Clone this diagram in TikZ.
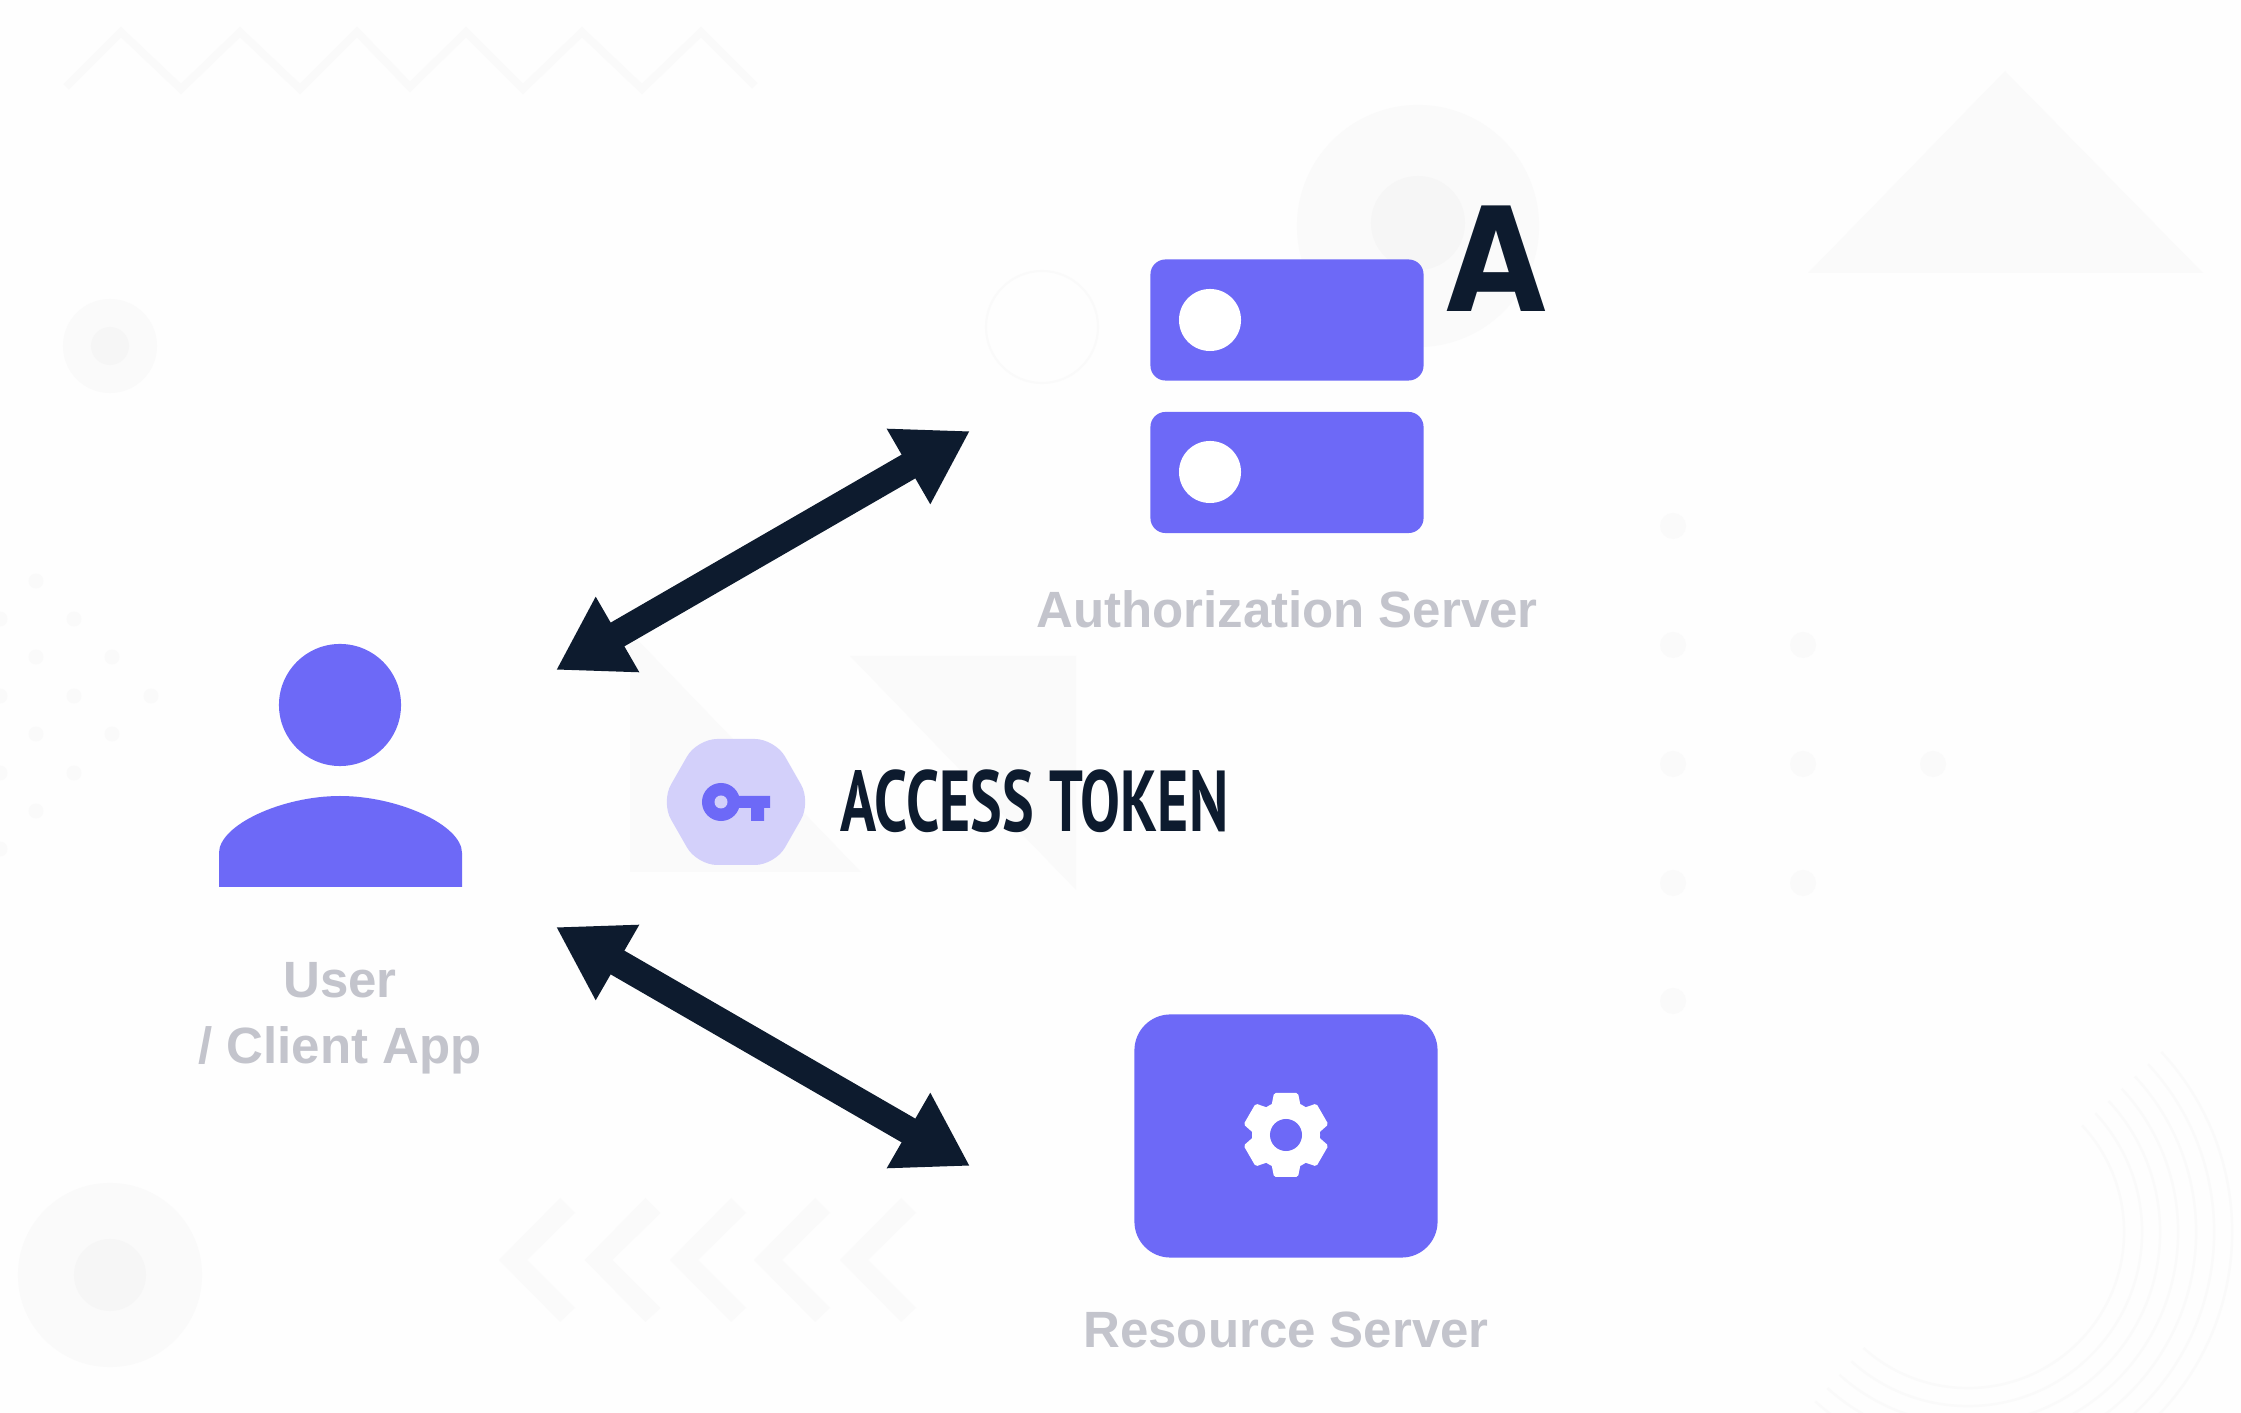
\documentclass[tikz,border=0pt]{standalone}
\usepackage{fontspec}
\usepackage{xcolor}
\usetikzlibrary{arrows.meta,positioning}
\setmainfont{Liberation Sans}
\newfontfamily\markfont[FakeStretch=0.89]{DejaVu Sans}
\newfontfamily\tokenfont[FakeStretch=0.69]{PT Sans}
\definecolor{brandpurple}{RGB}{109, 105, 247}
\definecolor{hexlilac}{RGB}{211, 208, 250}
\definecolor{darknavy}{RGB}{13, 27, 46}
\definecolor{softgray}{RGB}{195, 196, 204}
\definecolor{pagewhite}{RGB}{254, 254, 254}
\definecolor{faintgray}{RGB}{250, 250, 250}
\definecolor{innergray}{RGB}{246, 246, 246}

\begin{document}
\begin{tikzpicture}[
    x=0.01cm, y=-0.01cm,
    serverbox/.style={rectangle, rounded corners=0.15cm, minimum width=2.73cm, minimum height=1.21cm, inner sep=0, fill=brandpurple},
    serverdot/.style={circle, minimum size=0.62cm, inner sep=0, fill=white},
    blob/.style={circle, inner sep=0, fill=faintgray},
    blobcore/.style={circle, inner sep=0, fill=innergray},
    softdot/.style={fill=faintgray},
    nametext/.style={inner sep=0, align=center, text=softgray, font=\fontsize{14.5}{18.7}\selectfont\bfseries},
    arrow/.style={line width=7.8pt, draw=darknavy, fill=darknavy, {Triangle[length=20.2pt,width=23.3pt]}-{Triangle[length=20.2pt,width=23.3pt]}}
]

% Page
\path[use as bounding box, fill=pagewhite] (0,0) rectangle (2241,1413);

% Background shapes
\node[blob, minimum size=0.94cm] (blobnw) at (110,346) {};
\node[blobcore, minimum size=0.38cm] at (blobnw) {};
\node[blob, minimum size=1.84cm] (blobsw) at (110,1275) {};
\node[blobcore, minimum size=0.72cm] at (blobsw) {};
\node[blob, minimum size=2.42cm] (blobtop) at (1418,226) {};
\node[blobcore, minimum size=0.94cm] at (1418,223) {};
\node[circle, inner sep=0, minimum size=1.12cm, draw=faintgray, line width=0.6pt] (ringtop) at (1042,327) {};
\fill[faintgray] (2005,71) -- (1808,273) -- (2203,273) -- cycle;
\fill[faintgray] (630,632) -- (630,872) -- (861,872) -- cycle;
\fill[faintgray] (850,656) -- (1076,656) -- (1076,890) -- cycle;
\draw[faintgray, line width=2.2pt] (66,87) -- (121,32) -- (181,89) -- (240,32) -- (300,89) -- (357,32) -- (410,87) -- (466,32) -- (523,89) -- (582,32) -- (642,89) -- (701,32) -- (755,86);
\foreach \cx in {0,85.5,171,255,341}
    \fill[faintgray, xshift=\cx*0.01cm] (499,1260) -- (560,1198) -- (575,1213) -- (527,1260) -- (575,1308) -- (560,1322) -- cycle;
\foreach \px/\py in {36/581,0/619,74/619,36/657,112/657,0/696,74/696,151/696,36/734,112/734,0/773,74/773,36/811,0/849}
    \fill[softdot] (\px,\py) circle (0.075cm);
\foreach \px/\py in {1673/526,1673/645,1803/645,1673/764,1803/764,1933/764,1673/883,1803/883,1673/1001}
    \fill[softdot] (\px,\py) circle (0.13cm);
\foreach \rr in {1.56,1.74,1.92,2.10,2.28,2.46,2.64}
    \draw[faintgray, line width=0.7pt] (1968,1232) ++(-132:\rr cm) arc[start angle=-132, end angle=43, radius=\rr cm];

% User
\node[circle, minimum size=1.22cm, inner sep=0, fill=brandpurple] (userhead) at (340,705) {};
\fill[brandpurple] (219,887) -- (219,853) .. controls (219,825) and (282,796) .. (340,796) .. controls (398,796) and (462,825) .. (462,853) -- (462,887) -- cycle;
\node[nametext, anchor=north] (username) at (340,962) {User\\/ Client App};

% Authorization server
\node[serverbox] (authtop) at (1287,320) {};
\node[serverbox, below=0.30cm of authtop] (authbot) {};
\node[serverdot] (authtopdot) at (1210,320) {};
\node[serverdot] (authbotdot) at (1210,472) {};
\node[nametext, below=0.56cm of authbot] (authname) {Authorization Server};
\node[inner sep=0, anchor=base, text=darknavy, font=\fontsize{41.2}{43}\markfont\bfseries] (authmark) at (1496,312) {A};

% Resource server
\node[rectangle, rounded corners=0.36cm, minimum width=3.03cm, minimum height=2.43cm, inner sep=0, fill=brandpurple] (resbox) at (1286,1136) {};
\node[circle, minimum size=0.68cm, inner sep=0, fill=white] (gearbody) at (1286,1135) {};
\begin{scope}[shift={(1286,1135)}]
\foreach \a in {30,90,...,330}
    \fill[white, rotate=\a, rounded corners=0.5pt] (27,-15) -- (42,-12) -- (42,12) -- (27,15) -- cycle;
\end{scope}
\node[circle, minimum size=0.32cm, inner sep=0, fill=brandpurple] (gearhole) at (gearbody) {};
\node[nametext, below=0.53cm of resbox] (resname) {Resource Server};

% Access token
\fill[hexlilac, rounded corners=0.2cm] (661,802) -- (697,739) -- (775,739) -- (811,802) -- (775,865) -- (697,865) -- cycle;
\fill[brandpurple] (730,796) -- (770,796) -- (770,808) -- (764,808) -- (764,821) -- (751,821) -- (751,808) -- (730,808) -- cycle;
\node[circle, minimum size=0.38cm, inner sep=0, fill=brandpurple] (keyhead) at (721,802) {};
\node[circle, minimum size=0.13cm, inner sep=0, fill=hexlilac] (keyhole) at (keyhead) {};
\node[inner sep=0, anchor=base west, text=darknavy, font=\fontsize{24.6}{26}\tokenfont\bfseries] (tokenname) at (840,832) {ACCESS TOKEN};

% Arrows
\coordinate (userup) at (556,670);
\coordinate (authend) at (970,431);
\coordinate (userdown) at (556,927);
\coordinate (resend) at (970,1166);
\draw[arrow] (userup) -- (authend);
\draw[arrow] (userdown) -- (resend);

\end{tikzpicture}
\end{document}
